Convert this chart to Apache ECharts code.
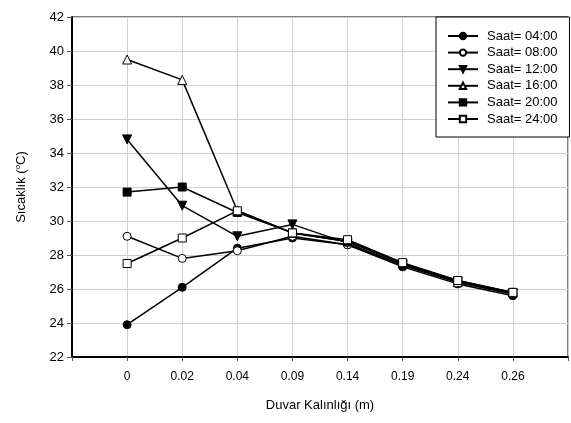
<!DOCTYPE html>
<html><head><meta charset="utf-8">
<script src="https://cdn.jsdelivr.net/npm/echarts@6/dist/echarts.min.js"></script>
<style>html,body{margin:0;padding:0;background:#fff}#c{width:571px;height:423px}</style>
</head><body><div id="c"></div>
<script>
var categories = ['', '0', '0.02', '0.04', '0.09', '0.14', '0.19', '0.24', '0.26', ''];
var s0400 = [null, 23.9, 26.1, 28.4, 29.0, 28.6, 27.3, 26.3, 25.6, null];
var s0800 = [null, 29.1, 27.8, 28.25, 29.1, 28.6, 27.4, 26.4, 25.7, null];
var s1200 = [null, 34.8, 30.9, 29.1, 29.8, 28.7, 27.4, 26.4, 25.7, null];
var s1600 = [null, 39.5, 38.3, 30.6, 29.3, 28.8, 27.5, 26.4, 25.8, null];
var s2000 = [null, 31.7, 32.0, 30.5, 29.3, 28.8, 27.5, 26.5, 25.8, null];
var s2400 = [null, 27.5, 29.0, 30.6, 29.3, 28.9, 27.55, 26.5, 25.8, null];
var names = ['Saat= 04:00', 'Saat= 08:00', 'Saat= 12:00', 'Saat= 16:00', 'Saat= 20:00', 'Saat= 24:00'];
var yTicks = {min: 22, max: 42, interval: 2};

var F = 'Arial, "Liberation Sans", sans-serif';
function mk(name, data, symbol, filled, rotate, size) {
  return {
    name: name, type: 'line', data: data, symbol: symbol, symbolSize: size,
    symbolRotate: rotate || 0, showAllSymbol: true, connectNulls: false,
    lineStyle: {color: '#000', width: 1.5},
    itemStyle: {color: filled ? '#000' : '#fff', borderColor: '#000', borderWidth: 1}
  };
}
var chart = echarts.init(document.getElementById('c'));
chart.setOption({
  animation: false,
  backgroundColor: '#fff',
  grid: {left: 72, right: 1, top: 17, bottom: 66, show: true, borderColor: '#000', borderWidth: 1},
  legend: {
    orient: 'vertical', left: 436, top: 17, width: 120,
    padding: [12, 12, 11, 11], itemGap: 2.6, itemWidth: 30, itemHeight: 8,
    backgroundColor: '#fff', borderColor: '#000', borderWidth: 1,
    textStyle: {fontFamily: F, fontSize: 13, lineHeight: 14, color: '#000', padding: [0, 0, 0, 4]},
    data: names
  },
  xAxis: {
    type: 'category', data: categories, boundaryGap: false,
    name: 'Duvar Kalınlığı (m)', nameLocation: 'middle', nameGap: 42,
    nameTextStyle: {fontFamily: F, fontSize: 13, color: '#000'},
    axisLine: {lineStyle: {color: '#000', width: 2}},
    axisTick: {show: true, length: 4, lineStyle: {color: '#555'}},
    axisLabel: {fontFamily: F, fontSize: 12, color: '#000', margin: 14, interval: 0},
    splitLine: {show: true, lineStyle: {color: '#d0d0d0', width: 1}}
  },
  yAxis: {
    type: 'value', min: yTicks.min, max: yTicks.max, interval: yTicks.interval,
    name: '{a|Sıcaklık (}{s|o}{a|C)}', nameLocation: 'middle', nameGap: 44, nameRotate: 90,
    nameTextStyle: {rich: {a: {fontFamily: F, fontSize: 13, color: '#000'}, s: {fontFamily: F, fontSize: 8, color: '#000', verticalAlign: 'top', padding: [0, 0, 6, 0]}}},
    axisLine: {show: true, lineStyle: {color: '#000', width: 2}},
    axisTick: {show: true, length: 5, lineStyle: {color: '#555'}},
    axisLabel: {fontFamily: F, fontSize: 13, color: '#000', margin: 8},
    splitLine: {show: true, lineStyle: {color: '#d0d0d0', width: 1}}
  },
  series: [
    mk(names[0], s0400, 'circle', true, 0, 8),
    mk(names[1], s0800, 'circle', false, 0, 8),
    mk(names[2], s1200, 'triangle', true, 180, 9),
    mk(names[3], s1600, 'triangle', false, 0, 9),
    mk(names[4], s2000, 'rect', true, 0, 8),
    mk(names[5], s2400, 'rect', false, 0, 8)
  ]
});
</script></body></html>
